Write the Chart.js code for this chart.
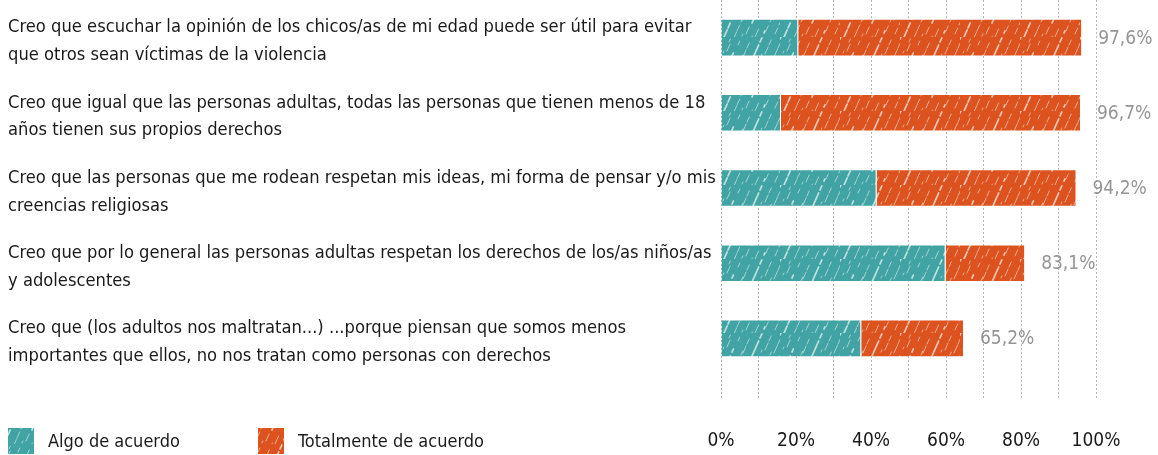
<!DOCTYPE html>
<html>
<head>
<meta charset="utf-8">
<script src="https://cdn.jsdelivr.net/npm/chart.js@4/dist/chart.umd.min.js"></script>
<style>
  html, body { margin: 0; padding: 0; background: #fff; }
  #wrap { width: 1158px; height: 455px; }
</style>
</head>
<body>
<div id="wrap"><canvas id="chart" width="1158" height="455"></canvas></div>
<script>
// Statements (two lines each)
const categories = [
  ['Creo que escuchar la opinión de los chicos/as de mi edad puede ser útil para evitar', 'que otros sean víctimas de la violencia'],
  ['Creo que igual que las personas adultas, todas las personas que tienen menos de 18', 'años tienen sus propios derechos'],
  ['Creo que las personas que me rodean respetan mis ideas, mi forma de pensar y/o mis', 'creencias religiosas'],
  ['Creo que por lo general las personas adultas respetan los derechos de los/as niños/as', 'y adolescentes'],
  ['Creo que (los adultos nos maltratan...) ...porque piensan que somos menos', 'importantes que ellos, no nos tratan como personas con derechos']
];

// Series values (% of respondents)
const algoDeAcuerdo = [20.6, 16.0, 41.5, 59.9, 37.4];
const totalmenteDeAcuerdo = [75.7, 80.0, 53.3, 21.2, 27.4];
const totalLabels = ['97,6%', '96,7%', '94,2%', '83,1%', '65,2%'];

const FONT = '"Liberation Sans Narrow", "DejaVu Sans Condensed", sans-serif';
const TEAL = '#41a3a3';
const ORANGE = '#dc531f';

// scribbly hatch fill like the original
function makePattern(color) {
  const c = document.createElement('canvas');
  c.width = 60; c.height = 37;
  const g = c.getContext('2d');
  g.fillStyle = color;
  g.fillRect(0, 0, c.width, c.height);
  g.strokeStyle = 'rgba(255,255,255,0.65)';
  g.lineCap = 'round';
  for (let i = 0; i < 30; i++) {
    const x = (i * 23) % 60;
    const y = (i * 13) % 37;
    const len = 2 + (i * 5) % 7;
    g.lineWidth = (i % 4 === 0) ? 1.8 : 0.8;
    g.beginPath();
    g.moveTo(x, y + len);
    g.lineTo(x + len * 0.45, y);
    g.stroke();
  }
  return g.createPattern(c, 'repeat');
}

const tealFill = makePattern(TEAL);
const orangeFill = makePattern(ORANGE);

// totals to the right of each bar
const totalsPlugin = {
  id: 'totals',
  afterDatasetsDraw(chart) {
    const ctx = chart.ctx;
    const last = chart.getDatasetMeta(chart.data.datasets.length - 1);
    ctx.save();
    ctx.font = '19px ' + FONT;
    ctx.fillStyle = '#959595';
    ctx.textAlign = 'left';
    ctx.textBaseline = 'middle';
    last.data.forEach((bar, i) => {
      ctx.fillText(totalLabels[i], bar.x + 16, bar.y + 1);
    });
    ctx.restore();
  }
};

// legend sits bottom-left, on the same row as the x ticks
const legendPlugin = {
  id: 'bottomLegend',
  afterDraw(chart) {
    const ctx = chart.ctx;
    const xs = [8, 258];
    const y = 428, size = 26;
    ctx.save();
    ctx.font = '18px ' + FONT;
    ctx.textBaseline = 'middle';
    chart.data.datasets.forEach((ds, i) => {
      ctx.fillStyle = ds.backgroundColor;
      ctx.fillRect(xs[i], y, size, size);
      ctx.fillStyle = '#1a1a1a';
      ctx.fillText(ds.label, xs[i] + 40, y + size / 2 + 1);
    });
    ctx.restore();
  }
};

new Chart(document.getElementById('chart'), {
  type: 'bar',
  data: {
    labels: categories,
    datasets: [
      {
        label: 'Algo de acuerdo',
        data: algoDeAcuerdo,
        backgroundColor: tealFill,
        borderColor: 'rgba(255,255,255,0.35)',
        borderWidth: 1
      },
      {
        label: 'Totalmente de acuerdo',
        data: totalmenteDeAcuerdo,
        backgroundColor: orangeFill,
        borderColor: 'rgba(255,255,255,0.35)',
        borderWidth: 1
      }
    ]
  },
  options: {
    indexAxis: 'y',
    responsive: false,
    animation: false,
    datasets: {
      bar: { categoryPercentage: 1, barPercentage: 0.5 }
    },
    layout: { padding: { left: 8, right: 62, top: 0, bottom: 0 } },
    plugins: {
      legend: { display: false },
      tooltip: { enabled: false }
    },
    scales: {
      x: {
        stacked: true,
        min: 0,
        max: 100,
        border: { display: false, dash: [2, 2] },
        grid: {
          color: '#b5b5b5',
          lineWidth: 1,
          tickLength: 24,
          tickColor: '#b5b5b5',
          tickBorderDash: [2, 2]
        },
        ticks: {
          stepSize: 10,
          padding: 29.6,
          color: '#1a1a1a',
          font: { family: FONT, size: 19 },
          maxRotation: 0,
          autoSkip: false,
          callback: v => (v % 20 === 0 ? v + '%' : '')
        },
        afterFit(scale) {
          // padding is counted twice by Chart.js; keep the axis tight
          scale.height = 79;
        }
      },
      y: {
        stacked: true,
        border: { display: false },
        grid: { display: false },
        ticks: {
          crossAlign: 'far',
          padding: 0,
          labelOffset: 4,
          color: '#1a1a1a',
          font: { family: FONT, size: 18.2, lineHeight: 1.52 }
        },
        afterFit(scale) {
          scale.width = 713;
          scale.paddingTop = 0;
          scale.paddingBottom = 0;
        }
      }
    }
  },
  plugins: [totalsPlugin, legendPlugin]
});
</script>
</body>
</html>
